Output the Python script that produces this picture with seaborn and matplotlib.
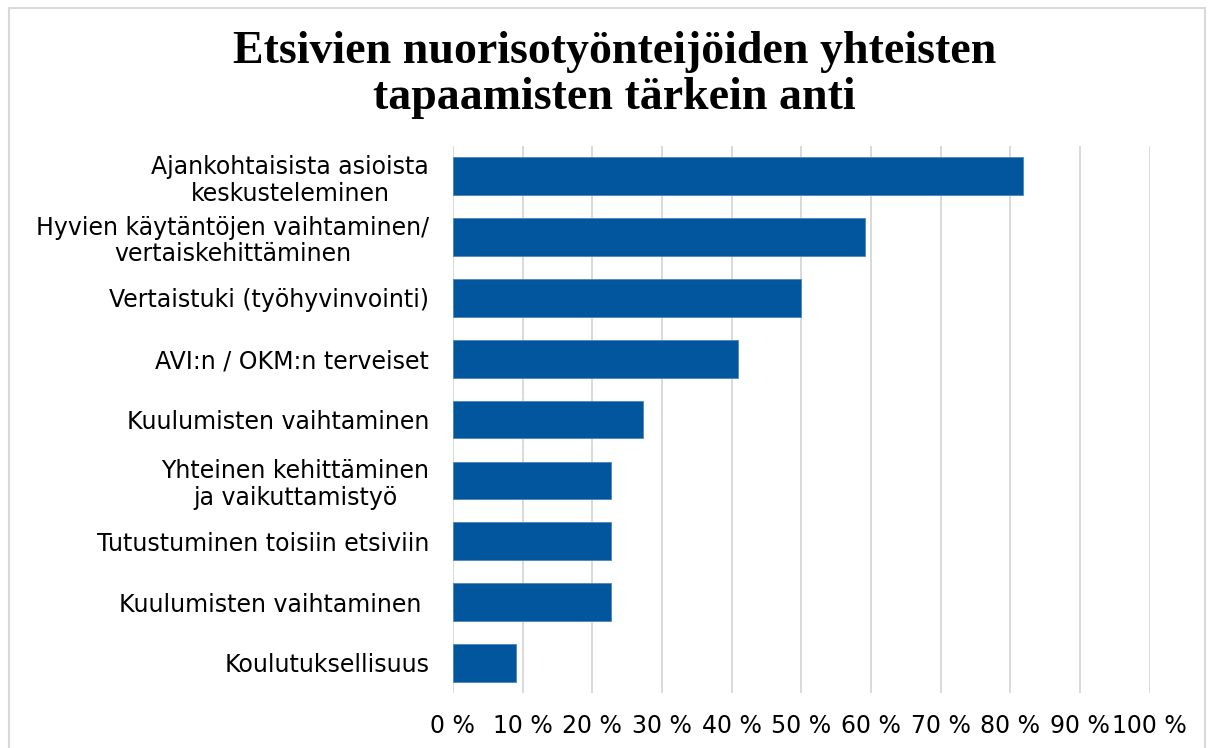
import pandas as pd
import matplotlib.pyplot as plt
import seaborn as sns
from matplotlib.ticker import FuncFormatter
from matplotlib.patches import FancyBboxPatch

# arvot luettu kuvasta (%)
kategoriat = [
    'Ajankohtaisista asioista\nkeskusteleminen',
    'Hyvien käytäntöjen vaihtaminen/\nvertaiskehittäminen',
    'Vertaistuki (työhyvinvointi)',
    'AVI:n / OKM:n terveiset',
    'Kuulumisten vaihtaminen',
    'Yhteinen kehittäminen\nja vaikuttamistyö',
    'Tutustuminen toisiin etsiviin',
    'Kuulumisten vaihtaminen ',
    'Koulutuksellisuus',
]
osuudet = [81.8, 59.1, 50.0, 40.9, 27.3, 22.7, 22.7, 22.7, 9.1]
x_ticks = [0, 10, 20, 30, 40, 50, 60, 70, 80, 90, 100]

df = pd.DataFrame({'kategoria': kategoriat, 'osuus': osuudet})

sns.set_style('white')
plt.rcParams['font.family'] = ['DejaVu Sans']
plt.rcParams['text.color'] = 'black'

fig = plt.figure(figsize=(12.14, 7.48), dpi=100)
ax = fig.add_axes([0.373, 0.073, 0.574, 0.732])

sns.barplot(data=df, y='kategoria', x='osuus', orient='h', color='#01569E',
            saturation=1, width=0.62, edgecolor='#4F86BD', linewidth=0.6, ax=ax)

ax.set_xlim(0, 100)
ax.set_xticks(x_ticks)
ax.xaxis.set_major_formatter(FuncFormatter(lambda v, p: f'{v:.0f} %'))
ax.grid(axis='x', color='#D9D9D9', linewidth=1.4)
ax.set_axisbelow(True)
for s in ax.spines.values():
    s.set_visible(False)
ax.set_xlabel('')
ax.set_ylabel('')
ax.tick_params(axis='both', length=0, labelsize=17, colors='black')
ax.tick_params(axis='y', pad=17)
ax.tick_params(axis='x', pad=15)
for lbl in ax.get_yticklabels():
    lbl.set_multialignment('center')
    lbl.set_linespacing(1.15)

fig.text(0.506, 0.900, 'Etsivien nuorisotyönteijöiden yhteisten\ntapaamisten tärkein anti',
         ha='center', va='center', fontsize=33, fontweight='bold', color='black',
         family='Liberation Serif', linespacing=1.12)

# kehys kuvan ympärillä
fig.patches.append(FancyBboxPatch((9 / 1214, -0.05), 1196 / 1214, 1.05 - 8 / 748,
                                  boxstyle='square,pad=0', transform=fig.transFigure,
                                  fill=False, edgecolor='#D9D9D9', linewidth=1.5))

plt.savefig('out.png', dpi=100)
